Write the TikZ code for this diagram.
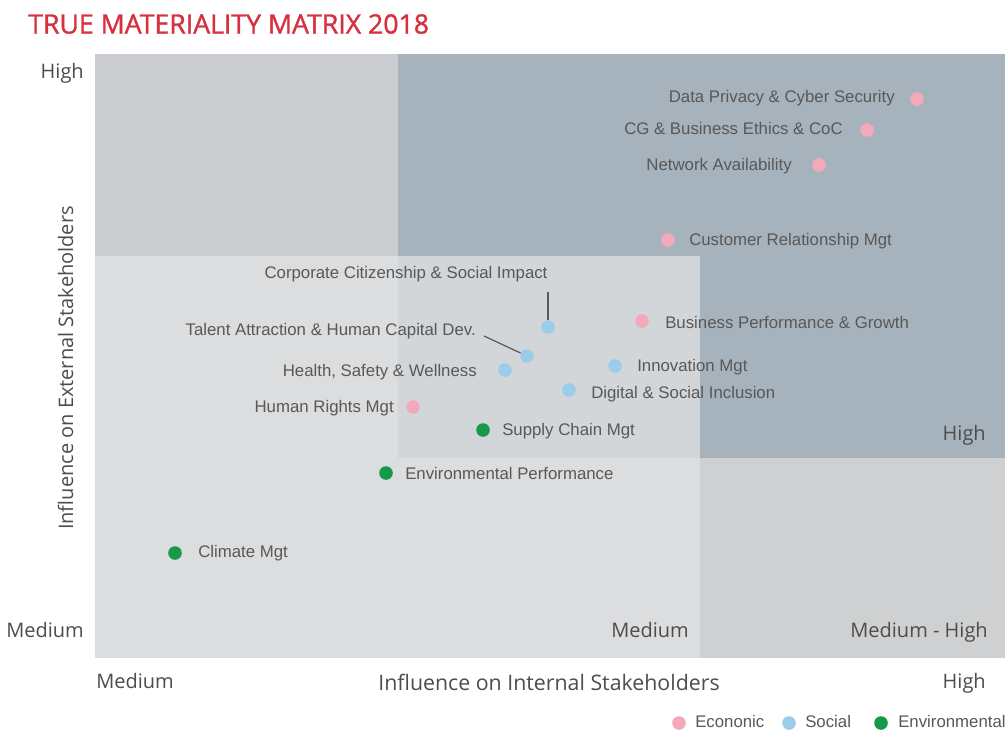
\documentclass[tikz,border=0pt]{standalone}
\usepackage{fontspec}
\setmainfont{Liberation Sans}
\newfontfamily\axf{Open Sans}
\newfontfamily\ttlf{Open Sans}[FakeBold=1.3]
\definecolor{ttlred}{HTML}{D7303F}
\definecolor{midgray}{HTML}{CBCCCF}
\definecolor{bluegray}{HTML}{A7B3BC}
\definecolor{lightgray}{HTML}{DCDDDF}
\definecolor{overlapgray}{HTML}{D3D6D9}
\definecolor{brgray}{HTML}{CFD0D2}
\definecolor{econ}{HTML}{F4A9BA}
\definecolor{soc}{HTML}{9DCBEA}
\definecolor{env}{HTML}{17994A}
\definecolor{axtext}{HTML}{4D4D4D}
\definecolor{lbltext}{HTML}{585858}
\tikzset{
  dotbase/.style={circle, inner sep=0pt, minimum size=10.2pt},
  econdot/.style={dotbase, fill=econ},
  socdot/.style={dotbase, fill=soc},
  envdot/.style={dotbase, fill=env},
  lbl/.style={inner sep=0pt, text=lbltext, font=\fontsize{12.6}{14}\selectfont, text height=9pt, text depth=2.6pt},
  axlbl/.style={inner sep=0pt, text=axtext, font=\axf\fontsize{15}{17}\selectfont, text height=10.7pt, text depth=3pt},
  leader/.style={draw=lbltext, line width=0.9pt}
}
\begin{document}
\begin{tikzpicture}[x=0.75pt, y=-0.75pt]
\useasboundingbox (0,0) rectangle (1008,733);
\fill[white] (0,0) rectangle (1008,733);
% title
\node[anchor=west, inner sep=0pt, text=ttlred, font=\ttlf\fontsize{20}{24}\selectfont] (title) at (28,24) {TRUE MATERIALITY MATRIX 2018};
% regions
\fill[midgray] (95,54) rectangle (1005,658);
\fill[bluegray] (398,54) rectangle (1005,458);
\fill[lightgray] (95,256) rectangle (700,658);
\fill[overlapgray] (398,256) rectangle (700,458);
\fill[brgray] (700,458) rectangle (1005,658);
% axis words
\node[axlbl, anchor=east] (yhigh) at (84,73) {High};
\node[axlbl, anchor=east] (ymed) at (84,632) {Medium};
\node[axlbl, rotate=90] (ytitle) at (68,368) {Influence on External Stakeholders};
\node[axlbl, anchor=west] (xmed) at (96,683) {Medium};
\node[axlbl, font=\axf\fontsize{16}{18}\selectfont] (xtitle) at (549,685) {Influence on Internal Stakeholders};
\node[axlbl, anchor=east] (xhigh) at (986,683) {High};
\node[axlbl, anchor=east] (qhigh) at (986,435) {High};
\node[axlbl, anchor=east] (qmed) at (689,632) {Medium};
\node[axlbl, anchor=east] (qmedhigh) at (988,632) {Medium - High};
% data points
\node[econdot] (dp) at (917,99) {};
\node[lbl, anchor=east] (dpl) at (895,98) {Data Privacy \& Cyber Security};
\node[econdot] (cg) at (867,130) {};
\node[lbl, anchor=east] (cgl) at (843,130) {CG \& Business Ethics \& CoC};
\node[econdot] (na) at (819,165) {};
\node[lbl, anchor=east] (nal) at (792,166) {Network Availability};
\node[econdot] (cr) at (668,240) {};
\node[lbl, anchor=west] (crl) at (689,241) {Customer Relationship Mgt};
\node[econdot] (bp) at (642,321) {};
\node[lbl, anchor=west] (bpl) at (665,324) {Business Performance \& Growth};
\node[socdot] (cc) at (548,327) {};
\node[lbl] (ccl) at (406,274) {Corporate Citizenship \& Social Impact};
\coordinate (ccs) at (548,292);
\draw[leader] (ccs) -- (cc.north);
\node[socdot] (ta) at (527,356) {};
\node[lbl, anchor=east] (tal) at (476,331) {Talent Attraction \& Human Capital Dev.};
\coordinate (tas) at (484,336);
\draw[leader] (tas) -- (ta);
\node[socdot] (hs) at (505,370) {};
\node[lbl, anchor=east] (hsl) at (477,372) {Health, Safety \& Wellness};
\node[socdot] (im) at (615,366) {};
\node[lbl, anchor=west] (iml) at (637,367) {Innovation Mgt};
\node[socdot] (ds) at (569,390) {};
\node[lbl, anchor=west] (dsl) at (591,394) {Digital \& Social Inclusion};
\node[econdot] (hr) at (413,407) {};
\node[lbl, anchor=east] (hrl) at (394,408) {Human Rights Mgt};
\node[envdot] (sc) at (483,430) {};
\node[lbl, anchor=west] (scl) at (502,431) {Supply Chain Mgt};
\node[envdot] (ep) at (386,473) {};
\node[lbl, anchor=west] (epl) at (405,475) {Environmental Performance};
\node[envdot] (cm) at (175,553) {};
\node[lbl, anchor=west] (cml) at (198,553) {Climate Mgt};
% legend
\node[econdot] (lge) at (679,723) {};
\node[lbl, anchor=west] (lgel) at (695,723) {Econonic};
\node[socdot] (lgs) at (789,723) {};
\node[lbl, anchor=west] (lgsl) at (805,723) {Social};
\node[envdot] (lgv) at (881,723) {};
\node[lbl, anchor=west] (lgvl) at (898,723) {Environmental};
\end{tikzpicture}
\end{document}
